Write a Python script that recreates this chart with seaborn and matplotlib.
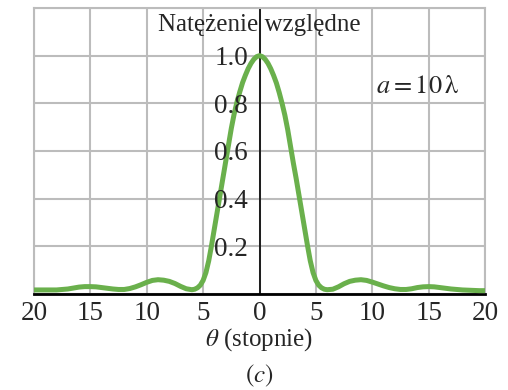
import numpy as np
import pandas as pd
import seaborn as sns
import matplotlib.pyplot as plt

# values (relative intensity vs angle in degrees)
theta = [-20, -19.5, -19, -18.5, -18, -17.5, -17, -16.5, -16, -15.5, -15,
         -14.5, -14, -13.5, -13, -12.5, -12, -11.5, -11, -10.5, -10,
         -9.5, -9, -8.5, -8, -7.5, -7, -6.5,
         -6, -5.75, -5.5, -5.25, -5, -4.75, -4.5, -4.25, -4, -3.75, -3.5, -3.25,
         -3, -2.75, -2.5, -2.25, -2, -1.75, -1.5, -1.25, -1, -0.75, -0.5, -0.25,
         0,
         0.25, 0.5, 0.75, 1, 1.25, 1.5, 1.75, 2, 2.25, 2.5, 2.75, 3,
         3.25, 3.5, 3.75, 4, 4.25, 4.5, 4.75, 5, 5.25, 5.5, 5.75, 6,
         6.5, 7, 7.5, 8, 8.5, 9, 9.5, 10,
         10.5, 11, 11.5, 12, 12.5, 13, 13.5, 14, 14.5, 15,
         15.5, 16, 16.5, 17, 17.5, 18, 18.5, 19, 19.5, 20]
intensity = [0.017, 0.017, 0.017, 0.017, 0.017, 0.019, 0.021, 0.025, 0.029, 0.031, 0.031,
             0.030, 0.027, 0.024, 0.021, 0.019, 0.019, 0.023, 0.030, 0.039, 0.049,
             0.057, 0.060, 0.058, 0.053, 0.044, 0.032, 0.022,
             0.018, 0.020, 0.026, 0.037, 0.057, 0.090, 0.140, 0.205, 0.275, 0.345, 0.415, 0.485,
             0.555, 0.625, 0.695, 0.755, 0.805, 0.848, 0.887, 0.918, 0.946, 0.968, 0.985, 0.996,
             1.000,
             0.996, 0.985, 0.968, 0.945, 0.917, 0.885, 0.845, 0.800, 0.750, 0.690, 0.620, 0.550,
             0.485, 0.415, 0.345, 0.275, 0.205, 0.140, 0.090, 0.057, 0.037, 0.026, 0.020, 0.018,
             0.020, 0.030, 0.043, 0.053, 0.058, 0.060, 0.057, 0.050,
             0.042, 0.034, 0.027, 0.022, 0.019, 0.019, 0.022, 0.027, 0.030, 0.031,
             0.030, 0.027, 0.024, 0.021, 0.019, 0.017, 0.016, 0.015, 0.014, 0.014]

x_ticks = [-20, -15, -10, -5, 0, 5, 10, 15, 20]
x_labels = ['20', '15', '10', '5', '0', '5', '10', '15', '20']
y_ticks = [0.2, 0.4, 0.6, 0.8, 1.0]
y_labels = ['0.2', '0.4', '0.6', '0.8', '1.0']

df = pd.DataFrame({'theta': theta, 'intensity': intensity})

sns.set_style('white')
plt.rcParams['font.family'] = ['Liberation Serif', 'DejaVu Serif']
plt.rcParams['mathtext.fontset'] = 'stix'

fig = plt.figure(figsize=(5.08, 3.9), dpi=100)
ax = fig.add_axes([34 / 508, 1 - 294 / 390, 451 / 508, 286 / 390])

grid_col = '#bcbcbc'
ax.set_xlim(-20, 20)
ax.set_ylim(0, 1.2)
ax.set_xticks(x_ticks)
ax.set_xticklabels(x_labels)
ax.set_yticks(np.arange(0, 1.21, 0.2))
ax.set_yticklabels([])
ax.grid(True, color=grid_col, linewidth=1.5)
ax.set_axisbelow(True)
ax.tick_params(axis='both', length=0)
ax.tick_params(axis='x', labelsize=19.5, pad=5)
for side in ['left', 'right', 'top']:
    ax.spines[side].set_color(grid_col)
    ax.spines[side].set_linewidth(1.5)
ax.spines['bottom'].set_color('black')
ax.spines['bottom'].set_linewidth(2)

ax.axvline(0, color='black', linewidth=1.2, zorder=2)

sns.lineplot(data=df, x='theta', y='intensity', ax=ax, color='#6ab04c',
             linewidth=3.6, sort=False, estimator=None, zorder=3)

for v, lab in zip(y_ticks, y_labels):
    ax.text(-1.0, v - 0.012, lab, ha='right', va='center', fontsize=19.5, zorder=4)

ax.text(0, 1.13, 'Natężenie względne', ha='center', va='center', fontsize=18)
ax.text(10.3, 0.87, r'$a = 10\,\mathrm{\lambda}$', ha='left', va='center', fontsize=19)

ax.set_xlabel(r'$\theta$ (stopnie)', fontsize=18, labelpad=0)
ax.set_ylabel('')
fig.text(259 / 508, 1 - 376 / 390, r'$(c)$', ha='center', va='center', fontsize=18)

fig.savefig('out.png', dpi=100)
